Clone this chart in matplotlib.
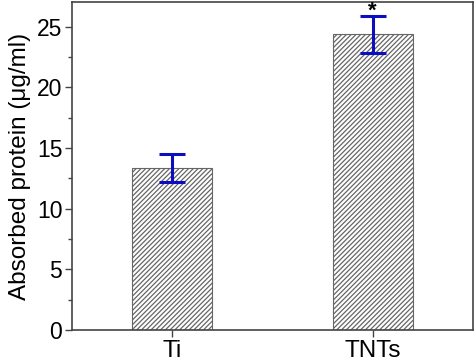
import numpy as np
import matplotlib
matplotlib.use("Agg")
import matplotlib.pyplot as plt

plt.rcParams['font.family'] = ['Liberation Sans', 'DejaVu Sans']
plt.rcParams['hatch.color'] = '#222222'
plt.rcParams['hatch.linewidth'] = 0.9

# Data
categories = ['Ti', 'TNTs']
values = [13.35, 24.38]
errors = [1.15, 1.55]
significance = ['', '*']

x = np.arange(1, len(categories) + 1)

fig = plt.figure(figsize=(4.77, 3.63), dpi=100)
ax = fig.add_axes([72 / 477, 1 - 330 / 363, 401 / 477, 328 / 363])

ax.bar(x, values, width=0.4, color='white', edgecolor='#666666',
       linewidth=0.8, hatch='///////', zorder=2)
ax.errorbar(x, values, yerr=errors, fmt='none', ecolor='#0c0cc0',
            elinewidth=2.2, capsize=9.3, capthick=2.2, zorder=3)
for xi, v, e, s in zip(x, values, errors, significance):
    if s:
        ax.text(xi, v + e - 0.1, s, ha='center', va='baseline', fontsize=16,
                fontweight='bold', clip_on=False)

ax.set_xlim(0.5, 2.5)
ax.set_ylim(0, 27.05)
ax.set_xticks(x)
ax.set_xticklabels(categories, fontsize=17.5)
ax.set_yticks(np.arange(0, 26, 5))
ax.set_yticks(np.arange(0, 27, 2.5), minor=True)
ax.tick_params(axis='y', labelsize=16.5, direction='out', length=5, width=1, color='#444444', pad=2)
ax.tick_params(axis='y', which='minor', length=3, width=1, color='#444444')
ax.tick_params(axis='x', direction='out', length=5, width=1, color='#444444', pad=2)
ax.set_ylabel('Absorbed protein (μg/ml)', fontsize=17.5, labelpad=4)
for sp in ax.spines.values():
    sp.set_color('#444444')
    sp.set_linewidth(1.2)

fig.savefig('out.png', dpi=100)
